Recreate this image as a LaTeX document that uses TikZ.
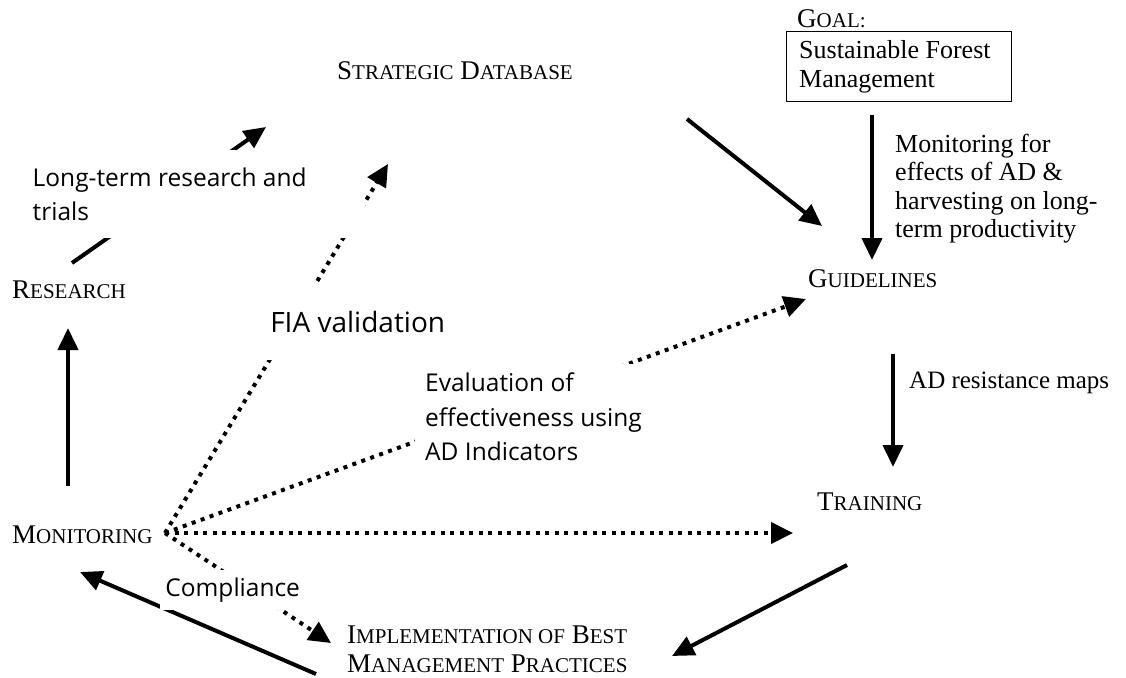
\documentclass[tikz,border=0pt]{standalone}
\usepackage{fontspec}
\setmainfont{Liberation Serif}
\newfontfamily\comicfont{Open Sans}
\usetikzlibrary{arrows.meta}
\pgfdeclarelayer{bg}
\pgfsetlayers{bg,main}
\newcommand\SCap[2]{#1{\fontsize{21pt}{24pt}\selectfont #2}}
\begin{document}
\begin{tikzpicture}[x=1pt,y=-1pt,
  solidarrow/.style={line width=4pt,-{Triangle[length=22pt,width=20pt]}},
  dotarrow/.style={line width=4pt,dash pattern=on 4pt off 5.5pt,-{Triangle[length=22pt,width=21pt]}},
  sclabel/.style={font=\fontsize{27pt}{30pt}\selectfont,anchor=base west,inner sep=0pt},
  serifbox/.style={font=\fontsize{26pt}{28.5pt}\selectfont},
  comiclabel/.style={font=\comicfont\fontsize{24.5pt}{34.5pt}\selectfont,fill=white,inner sep=0pt,align=left,anchor=north west},
]
\useasboundingbox (0,0) rectangle (1126,677);

% main nodes
\node[sclabel] (research) at (12,298) {\SCap{R}{ESEARCH}};
\node[sclabel] (strat) at (337,79) {\SCap{S}{TRATEGIC} \SCap{D}{ATABASE}};
\node[sclabel] (goallab) at (797,28) {\SCap{G}{OAL:}};
\node[draw,line width=1.4pt,anchor=north west,minimum width=225pt,minimum height=70pt,inner sep=0pt,serifbox] (goal) at (786,31) {\parbox[t]{200pt}{Sustainable Forest\\Management}};
\node[anchor=base west,inner sep=0pt,serifbox] (montext) at (895,152) {\parbox[t]{240pt}{\raggedright Monitoring for\\effects of AD \&\\harvesting on long-\\term productivity}};
\node[sclabel] (guide) at (808,287) {\SCap{G}{UIDELINES}};
\node[anchor=base west,inner sep=0pt,font=\fontsize{25pt}{28pt}\selectfont] (admaps) at (909,388) {AD resistance maps};
\node[sclabel] (training) at (817,510) {\SCap{T}{RAINING}};
\node[sclabel] (monitor) at (12,543) {\SCap{M}{ONITORING}};
\node[anchor=base west,inner sep=0pt,font=\fontsize{27pt}{29pt}\selectfont] (impl) at (347,643) {\parbox[t]{320pt}{\SCap{I}{MPLEMENTATION OF} \SCap{B}{EST}\\\SCap{M}{ANAGEMENT} \SCap{P}{RACTICES}}};

% labels on connectors
\node[comiclabel, minimum width=345pt, minimum height=88pt] (ltlab) at (20,150) {\parbox[t]{320pt}{Long-term research and\\trials}};
\node[comiclabel, minimum width=205pt, minimum height=77pt, font=\comicfont\fontsize{28pt}{32pt}\selectfont] (fialab) at (255,283) {FIA validation};
\node[comiclabel, minimum width=250pt, minimum height=106pt] (evallab) at (415,364) {\parbox[t]{230pt}{Evaluation of\\effectiveness using\\AD Indicators}};
\node[comiclabel, minimum width=145pt, minimum height=40pt] (complab) at (160,570) {Compliance};

% connector end points
\coordinate (monup) at (68,486);
\coordinate (resbot) at (68,328);
\coordinate (resout) at (72,263);
\coordinate (stratin) at (266,127);
\coordinate (stratout) at (687,119);
\coordinate (guidein) at (822,226);
\coordinate (goalout) at (872,115);
\coordinate (guidetop) at (872,260);
\coordinate (guideout) at (893,354);
\coordinate (trainin) at (893,467);
\coordinate (trainout) at (847,565);
\coordinate (implin) at (672,656);
\coordinate (implout) at (316,674);
\coordinate (monin) at (80,572);
\coordinate (monsrc) at (165,533);
\coordinate (fiatip) at (388,164);
\coordinate (evaltip) at (806,299);
\coordinate (traintip) at (793,533);
\coordinate (impltip) at (331,643);

\begin{pgfonlayer}{bg}
\draw[solidarrow] (monup) -- (resbot);
\draw[solidarrow] (resout) -- (stratin);
\draw[solidarrow] (stratout) -- (guidein);
\draw[solidarrow] (goalout) -- (guidetop);
\draw[solidarrow] (guideout) -- (trainin);
\draw[solidarrow] (trainout) -- (implin);
\draw[solidarrow] (implout) -- (monin);
\draw[dotarrow] (monsrc) -- (fiatip);
\draw[dotarrow] (monsrc) -- (evaltip);
\draw[dotarrow] (monsrc) -- (traintip);
\draw[dotarrow] (monsrc) -- (impltip);
\end{pgfonlayer}
\end{tikzpicture}
\end{document}
